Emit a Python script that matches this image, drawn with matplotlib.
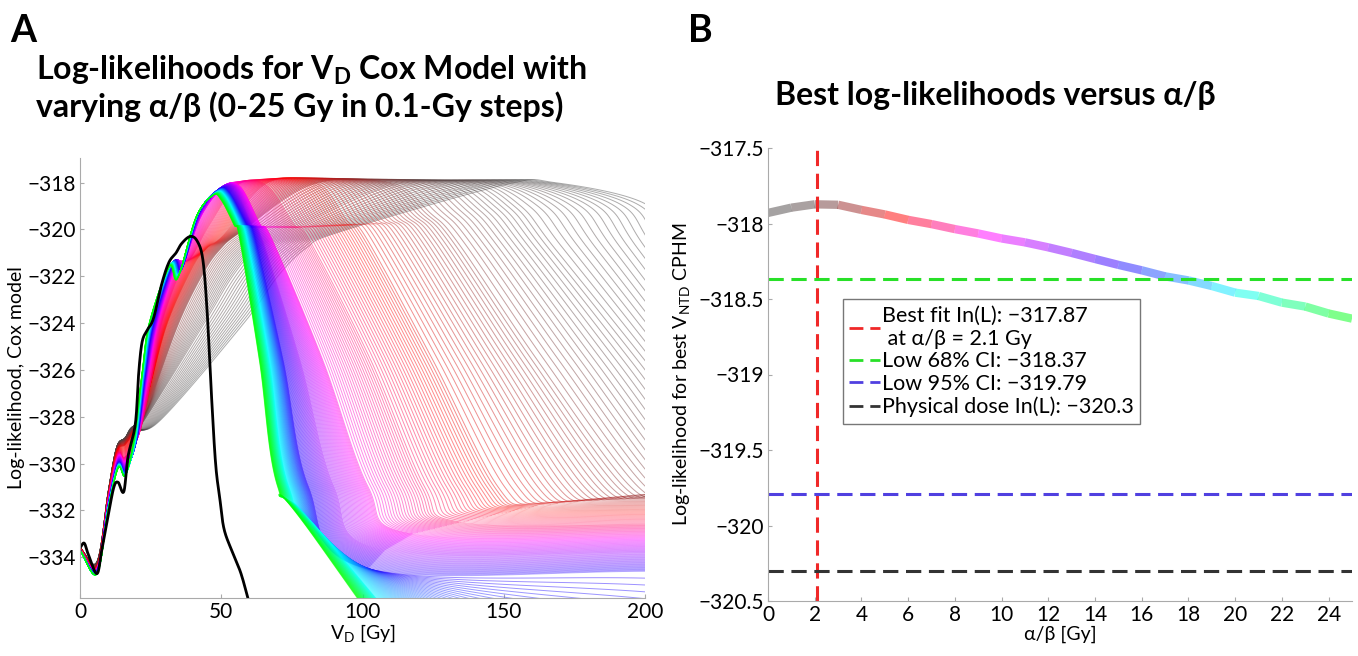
import numpy as np
import matplotlib
matplotlib.use("Agg")
import matplotlib.pyplot as plt
from matplotlib.collections import LineCollection
from matplotlib.colors import LinearSegmentedColormap
from matplotlib.lines import Line2D

plt.rcParams['font.family'] = ['Lato', 'DejaVu Sans']
plt.rcParams['mathtext.fontset'] = 'custom'
plt.rcParams['mathtext.rm'] = 'Lato'
plt.rcParams['mathtext.bf'] = 'Lato:bold'

# ---- panel A: physical dose curve (black) ----
phys_v = [0, 1.5, 3, 6, 7.7, 10, 12, 13.5, 15.5, 17, 19.6, 20.8, 22, 23.8, 26, 29, 31.5,
          34, 36, 39, 41.5, 43.5, 45, 46.5, 48, 49.5, 51, 54, 57, 60]
phys_ll = [-333.6, -333.4, -333.9, -334.7, -333.7, -332.2, -331.0, -330.8, -331.2, -329.7,
           -328.3, -326.1, -324.8, -324.3, -323.8, -322.3, -321.4, -321.0, -320.6, -320.3,
           -320.5, -321.3, -323.5, -327.0, -330.0, -331.5, -332.8, -333.8, -334.7, -336.0]

# ---- panel A: key points of the alpha/beta curves read at a few alpha/beta values ----
anchor_ab = [0, 1.5, 3, 5, 7, 9, 12, 15, 20, 25]
anchor_v = [
    [0, 6, 10, 13, 16, 19, 28, 58, 70, 80, 92, 150, 168, 200, 212, 240, 270, 290],
    [0, 6, 10, 13, 16, 19, 22, 44, 54, 62, 74, 110, 140, 156, 168, 200, 235, 270],
    [0, 6, 10, 13, 16, 19, 24, 35, 44, 50, 57, 82, 110, 124, 134, 162, 195, 230],
    [0, 6, 10, 13, 16, 19, 24, 31, 40, 45, 51, 66, 84, 95, 101, 125, 148, 205],
    [0, 6, 10, 13.3, 16, 21, 25, 29, 36, 40, 46, 56, 66, 76, 81, 103, 122, 205],
    [0, 6, 10, 13.5, 16, 20.5, 24, 27.5, 34, 37, 43, 51, 57, 64, 68, 86, 102, 205],
    [0, 6, 10, 13.5, 16, 20.2, 23.5, 26.8, 33.5, 36.5, 42.5, 50, 55, 61, 64.5, 78, 90, 205],
    [0, 6, 10, 13.5, 16, 20, 23, 26, 33, 36, 42, 49, 53, 59, 62, 72, 81, 205],
    [0, 6, 10, 13.5, 16, 19.5, 22.3, 25, 32, 35, 41.5, 48, 51.5, 56.5, 59, 67, 74, 205],
    [0, 6, 10, 13.5, 16, 19, 22, 24.5, 31.5, 34.5, 41, 47, 50, 54.5, 56.5, 63.5, 70, 205],
]
anchor_ll = [
    [-333.6, -334.2, -331.2, -329.3, -328.9, -328.4, -328.2, -324.0, -322.0, -320.8, -320.1, -318.1, -318.0, -318.9, -320.8, -325.6, -331.0, -331.2],
    [-333.6, -334.2, -331.2, -329.3, -328.9, -328.4, -328.3, -324.0, -322.0, -320.9, -320.1, -318.15, -318.0, -319.0, -320.8, -325.6, -331.0, -331.3],
    [-333.6, -334.3, -331.3, -329.4, -329.0, -328.5, -327.6, -324.0, -321.8, -320.8, -320.1, -318.1, -318.0, -319.3, -320.6, -325.6, -331.0, -331.2],
    [-333.6, -334.4, -331.4, -329.5, -329.2, -328.6, -327.0, -324.0, -321.6, -320.8, -320.2, -318.05, -318.0, -319.7, -320.3, -325.6, -331.0, -331.9],
    [-333.65, -334.45, -331.5, -329.6, -329.7, -328.7, -326.5, -324.0, -321.7, -321.1, -319.8, -318.1, -318.1, -319.8, -320.4, -325.6, -331.0, -332.6],
    [-333.7, -334.5, -331.6, -329.7, -329.9, -328.8, -326.3, -324.0, -321.5, -321.3, -319.4, -318.15, -318.2, -319.8, -320.4, -325.6, -331.0, -333.1],
    [-333.7, -334.55, -331.7, -329.85, -330.1, -328.9, -326.2, -324.0, -321.4, -321.5, -319.35, -318.2, -318.3, -319.8, -320.4, -325.6, -331.0, -333.8],
    [-333.7, -334.6, -331.8, -330.0, -330.3, -329.0, -326.2, -324.0, -321.4, -321.7, -319.3, -318.3, -318.45, -319.8, -320.4, -325.6, -331.0, -334.6],
    [-333.7, -334.7, -331.9, -330.1, -330.5, -329.0, -326.1, -324.0, -321.5, -321.9, -319.4, -318.45, -318.6, -319.8, -320.4, -325.6, -331.0, -350.0],
    [-333.7, -334.7, -332.0, -330.2, -330.5, -329.0, -326.1, -324.0, -321.6, -322.1, -319.5, -318.55, -318.75, -319.8, -320.4, -325.6, -331.0, -354.0],
]
# tail levels (where the high-dose end of each curve settles)
anchor_tail_v = [280, 250, 210, 162, 135, 118, 108, 102, 92, 85]
anchor_tail_ll = [-331.2, -331.3, -331.2, -331.8, -332.5, -333.0, -333.7, -334.5, -333.9, -333.5]

# ---- panel B: best log-likelihood per alpha/beta ----
best_ab = list(range(26))
best_ll = [-317.93, -317.895, -317.873, -317.876, -317.91, -317.94, -317.976, -318.004,
           -318.037, -318.066, -318.099, -318.125, -318.158, -318.195, -318.235, -318.274,
           -318.31, -318.35, -318.377, -318.414, -318.458, -318.48, -318.524, -318.55,
           -318.596, -318.63]
best_fit_ab = 2.1
ci68 = -318.37
ci95 = -319.79
phys_best = -320.3

ab_cmap = LinearSegmentedColormap.from_list("ab", [
    (0.0, (0.28, 0.28, 0.28)),
    (2.0 / 25, (0.36, 0.26, 0.26)),
    (3.5 / 25, (0.62, 0.14, 0.14)),
    (5.5 / 25, (1.0, 0.0, 0.0)),
    (9.5 / 25, (1.0, 0.0, 1.0)),
    (15.0 / 25, (0.15, 0.0, 1.0)),
    (20.0 / 25, (0.0, 1.0, 1.0)),
    (1.0, (0.0, 1.0, 0.0)),
])


def smooth(px, py, n=24):
    # Catmull-Rom spline through the key points
    P = np.column_stack([px, py]).astype(float)
    P = np.vstack([2 * P[0] - P[1], P, 2 * P[-1] - P[-2]])
    t = np.linspace(0, 1, n, endpoint=False)[:, None]
    out = []
    for i in range(1, len(P) - 2):
        p0, p1, p2, p3 = P[i - 1], P[i], P[i + 1], P[i + 2]
        out.append(0.5 * (2 * p1 + (-p0 + p2) * t + (2 * p0 - 5 * p1 + 4 * p2 - p3) * t ** 2
                          + (-p0 + 3 * p1 - 3 * p2 + p3) * t ** 3))
    out.append(P[-2][None])
    return np.vstack(out)


fig = plt.figure(figsize=(13.58, 6.56), dpi=100)

# ================= panel A =================
axA = fig.add_axes([80 / 1358, 1 - 598 / 656, 565 / 1358, 440 / 656])
ab_steps = np.round(np.arange(0, 25.001, 0.1), 1)
av = np.array(anchor_v, float)
al = np.array(anchor_ll, float)
# insert the tail point before the last key point
av = np.insert(av, 17, anchor_tail_v, axis=1)
al = np.insert(al, 17, anchor_tail_ll, axis=1)
NS = 24
main_segs, main_cols, tail_segs, tail_cols = [], [], [], []
for ab in ab_steps:
    i = min(np.searchsorted(anchor_ab, ab, side='right') - 1, len(anchor_ab) - 2)
    w = (ab - anchor_ab[i]) / (anchor_ab[i + 1] - anchor_ab[i])
    curve = smooth((1 - w) * av[i] + w * av[i + 1], (1 - w) * al[i] + w * al[i + 1], NS)
    c = ab_cmap(ab / 25)
    if ab <= 15:
        # flat high-dose tail drawn fainter
        k = 17 * NS
        main_segs.append(curve[:k + 1])
        tail_segs.append(curve[k:])
        tail_cols.append(c)
    else:
        main_segs.append(curve)
    main_cols.append(c)
axA.add_collection(LineCollection(tail_segs, colors=tail_cols, linewidths=0.7, alpha=0.28))
axA.add_collection(LineCollection(main_segs, colors=main_cols, linewidths=0.7, alpha=0.45))
bk = smooth(phys_v, phys_ll, 12)
axA.plot(bk[:, 0], bk[:, 1], color='black', lw=2)

axA.set_xlim(0, 200)
axA.set_ylim(-335.74, -316.95)
axA.set_xticks([0, 50, 100, 150, 200])
axA.set_yticks(np.arange(-334, -317, 2))
axA.set_xlabel(r'V$_\mathrm{D}$ [Gy]', fontsize=14, labelpad=0)
axA.set_ylabel('Log-likelihood, Cox model', fontsize=14, labelpad=2)

# ================= panel B =================
axB = fig.add_axes([768 / 1358, 1 - 601 / 656, 584 / 1358, 453 / 656])
pts = np.column_stack([best_ab, best_ll])
bsegs = np.stack([pts[:-1], pts[1:]], axis=1)
bcols = [ab_cmap((best_ab[k] + 0.5) / 25) for k in range(len(best_ab) - 1)]
axB.add_collection(LineCollection(bsegs, colors=bcols, linewidths=6, alpha=0.5,
                                  capstyle='butt'))
dash = (0, (5, 2.5))
red_c, green_c, blue_c, dark_c = '#f02828', '#28e028', '#5040e0', '#333333'
axB.axvline(best_fit_ab, color=red_c, lw=2.2, linestyle=dash)
axB.axhline(ci68, color=green_c, lw=2.2, linestyle=dash)
axB.axhline(ci95, color=blue_c, lw=2.2, linestyle=dash)
axB.axhline(phys_best, color=dark_c, lw=2.2, linestyle=dash)

axB.set_xlim(0, 25)
axB.set_ylim(-320.5, -317.5)
axB.set_xticks(np.arange(0, 25, 2))
axB.set_yticks(np.arange(-320.5, -317.4, 0.5))
axB.yaxis.set_major_formatter(plt.FuncFormatter(lambda v, p: ('%g' % v).replace('-', '\u2212')))
axB.set_xlabel('\u03b1/\u03b2 [Gy]', fontsize=14, labelpad=0)
axB.set_ylabel(r'Log-likelihood for best V$_\mathrm{NTD}$ CPHM', fontsize=14, labelpad=4)

handles = [Line2D([], [], color=c, lw=2, linestyle=dash) for c in (red_c, green_c, blue_c, dark_c)]
labels = ['Best fit In(L): \u2212317.87\n at \u03b1/\u03b2 = 2.1 Gy',
          'Low 68% CI: \u2212318.37',
          'Low 95% CI: \u2212319.79',
          'Physical dose In(L): \u2212320.3']
leg = axB.legend(handles, labels, loc='upper left', bbox_to_anchor=(0.11, 0.69),
                 fontsize=15.5, handlelength=1.4, handletextpad=0.1, borderpad=0.3,
                 labelspacing=0.12, fancybox=False, framealpha=1, edgecolor='#777777')

for ax in (axA, axB):
    for s in ('top', 'right'):
        ax.spines[s].set_visible(False)
    for s in ('left', 'bottom'):
        ax.spines[s].set_color('#aaaaaa')
    ax.tick_params(direction='in', length=3, color='#aaaaaa', labelsize=15, pad=3)

# ================= titles =================
fig.text(10 / 1358, 1 - 42 / 656, 'A', fontsize=27, fontweight='bold', va='baseline')
fig.text(688 / 1358, 1 - 42 / 656, 'B', fontsize=27, fontweight='bold', va='baseline')
fig.text(36 / 1358, 1 - 80 / 656, r'Log-likelihoods for V$_\mathbf{D}$ Cox Model with',
         fontsize=23, fontweight='bold', va='baseline')
fig.text(36 / 1358, 1 - 117 / 656, 'varying \u03b1/\u03b2 (0-25 Gy in 0.1-Gy steps)',
         fontsize=23, fontweight='bold', va='baseline')
fig.text(775 / 1358, 1 - 105 / 656, 'Best log-likelihoods versus \u03b1/\u03b2',
         fontsize=23, fontweight='bold', va='baseline')

fig.savefig('out.png', dpi=100)
